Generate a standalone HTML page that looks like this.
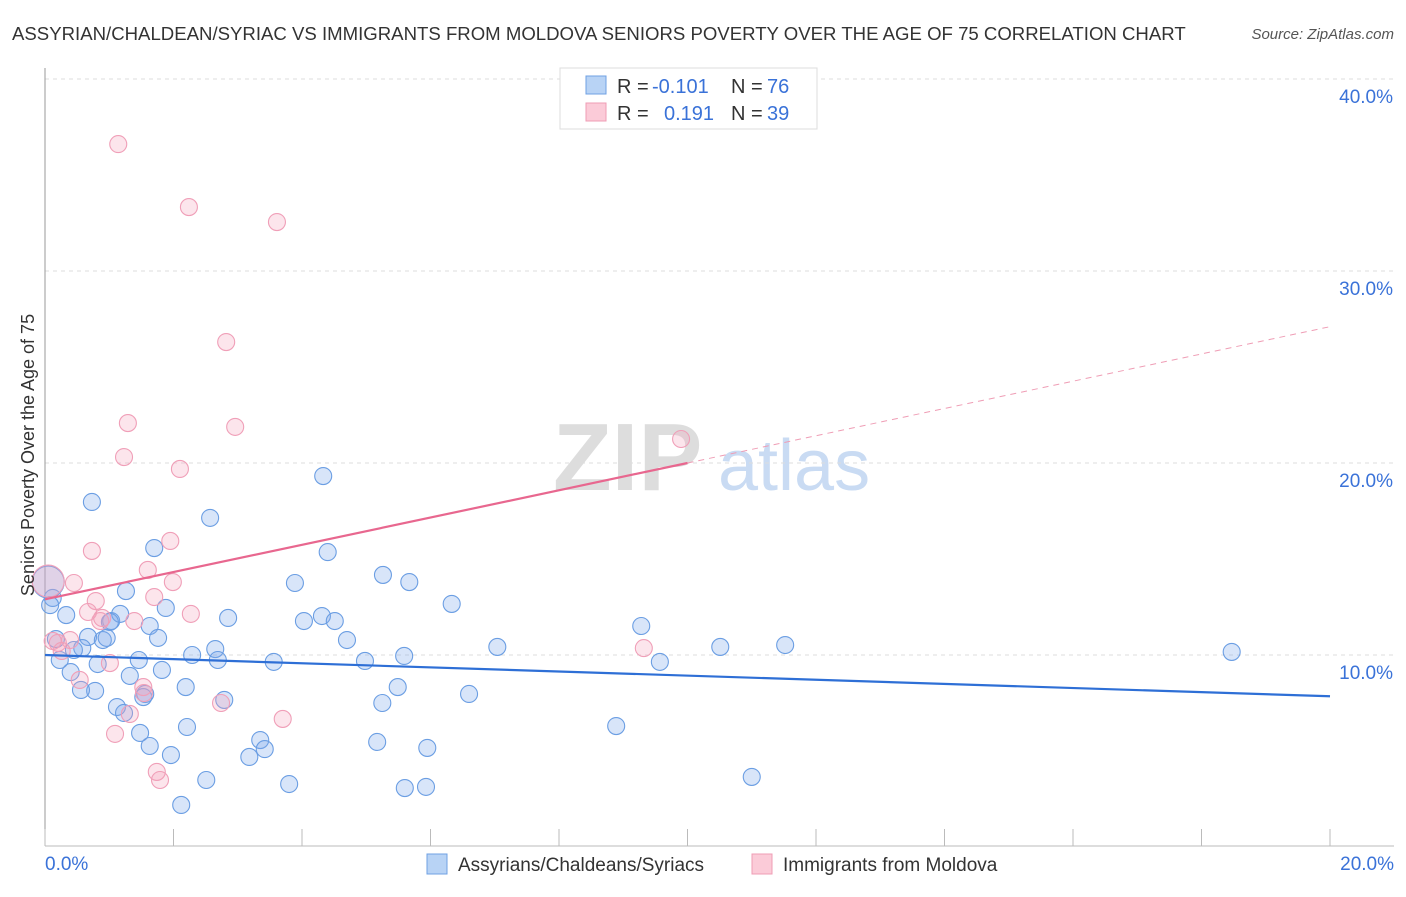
<!DOCTYPE html>
<html><head><meta charset="utf-8"><style>
body{margin:0;background:#fff;font-family:"Liberation Sans",sans-serif}
svg text{font-family:"Liberation Sans",sans-serif}
</style></head><body>
<svg id="chart" width="1406" height="892">
<text x="12" y="40" font-size="18.6" fill="#333">ASSYRIAN/CHALDEAN/SYRIAC VS IMMIGRANTS FROM MOLDOVA SENIORS POVERTY OVER THE AGE OF 75 CORRELATION CHART</text>
<text x="1394" y="39" font-size="15" fill="#555" text-anchor="end" font-style="italic">Source: ZipAtlas.com</text>
<g><text x="553" y="490" font-size="96" font-family="Liberation Serif,serif" fill="#ddd" font-weight="bold">ZIP</text><text x="718" y="490" font-size="72" fill="#c9dbf3">atlas</text></g>
<g id="grid"></g><g id="axes"></g><g id="pts"></g><g id="lines"></g>
<text transform="translate(34,455) rotate(-90)" font-size="18" fill="#333" text-anchor="middle">Seniors Poverty Over the Age of 75</text>
<g>
<rect x="560" y="68" width="257" height="61" fill="#fff" stroke="#ddd"/>
<rect x="586" y="76" width="20" height="18" fill="#b8d3f5" stroke="#6fa0e3"/>
<rect x="586" y="103" width="20" height="18" fill="#fbcbd8" stroke="#ef9db5"/>
<text x="617" y="93" font-size="20" fill="#333">R =</text><text x="652" y="93" font-size="20" fill="#3a72d8">-0.101</text>
<text x="731" y="93" font-size="20" fill="#333">N =</text><text x="767" y="93" font-size="20" fill="#3a72d8">76</text>
<text x="617" y="120" font-size="20" fill="#333">R =</text><text x="664" y="120" font-size="20" fill="#3a72d8">0.191</text>
<text x="731" y="120" font-size="20" fill="#333">N =</text><text x="767" y="120" font-size="20" fill="#3a72d8">39</text>
</g>
<g>
<rect x="427" y="854" width="20" height="20" fill="#b8d3f5" stroke="#6fa0e3"/>
<text x="458" y="871" font-size="19" fill="#333">Assyrians/Chaldeans/Syriacs</text>
<rect x="752" y="854" width="20" height="20" fill="#fbcbd8" stroke="#ef9db5"/>
<text x="783" y="871" font-size="19" fill="#333">Immigrants from Moldova</text>
</g>
</svg>
<script>
const yTicks=[10,20,30,40];
const yTickLabels=["10.0%","20.0%","30.0%","40.0%"];
const xTickLabels=["0.0%","20.0%"];
const blueX=[0.73,2.57,4.33,1.70,4.40,1.26,1.88,3.89,5.26,5.67,6.33,2.85,4.03,4.31,4.51,4.70,1.63,1.76,1.03,0.33,1.17,0.12,0.05,0.17,0.67,0.90,0.96,0.58,0.45,0.23,0.40,0.82,1.46,1.82,2.29,2.65,2.69,3.56,4.98,5.59,7.04,9.28,9.57,10.51,11.52,18.47,1.32,2.19,2.79,1.56,1.53,1.12,1.23,0.78,0.56,1.48,2.21,1.63,1.96,3.35,3.42,3.18,2.51,2.12,3.80,5.17,5.49,5.25,6.60,5.95,5.60,5.93,8.89,11.00,1.01,0.08];
const blueY=[17.97,17.14,19.32,15.57,15.36,13.33,12.45,13.75,14.17,13.80,12.66,11.93,11.77,12.03,11.77,10.78,11.51,10.89,11.77,12.08,12.14,12.97,13.80,10.83,10.94,10.78,10.89,10.36,10.26,9.74,9.11,9.53,9.74,9.22,10.00,10.31,9.74,9.64,9.69,9.95,10.42,11.51,9.64,10.42,10.52,10.16,8.91,8.33,7.66,7.97,7.81,7.29,6.98,8.13,8.18,5.94,6.25,5.26,4.79,5.57,5.10,4.69,3.49,2.19,3.28,5.47,8.33,7.50,7.97,5.16,3.07,3.13,6.30,3.65,11.72,12.60];
const pinkX=[1.14,2.24,3.61,2.82,1.29,1.23,2.96,2.10,9.90,0.73,1.95,1.60,0.45,1.99,1.70,0.79,0.67,0.89,2.27,1.39,0.39,0.20,0.26,0.54,1.01,1.53,1.54,1.32,2.74,3.70,1.09,1.74,1.79,9.32,0.05,0.12,0.86];
const pinkY=[36.61,33.33,32.55,26.30,22.08,20.31,21.88,19.69,21.25,15.42,15.94,14.43,13.75,13.80,13.02,12.81,12.24,11.93,12.14,11.77,10.78,10.63,10.21,8.70,9.58,8.33,8.02,6.93,7.50,6.67,5.89,3.91,3.49,10.36,13.85,10.73,11.77];
const blueLine=[10.0,7.85];
const pinkLine=[12.9,27.1];
const pinkSolidEnd=10;
const sx=v=>45+v*64.25, sy=v=>847-v*19.2;
const NS="http://www.w3.org/2000/svg";
function mk(tag,parent,attrs){const e=document.createElementNS(NS,tag);for(const k in attrs)e.setAttribute(k,attrs[k]);document.getElementById(parent).appendChild(e);return e;}
yTicks.forEach((t,i)=>{
 const g=mk('line','grid',{x1:45,x2:1394,y1:sy(t),y2:sy(t),stroke:'#ddd','stroke-dasharray':'4,4'});
 
 
 const l=mk('text','grid',{x:1393,y:sy(t)+24,'font-size':19,fill:'#3a72d8','text-anchor':'end'});l.textContent=yTickLabels[i];
 
 
});
const ax=mk('line','axes',{x1:45,x2:45,y1:68,y2:846,stroke:'#999'});


const bx=mk('line','axes',{x1:45,x2:1394,y1:846,y2:846,stroke:'#bbb'});


for(let i=0;i<=10;i++){const t=mk('line','axes',{x1:sx(i*2),x2:sx(i*2),y1:829,y2:846,stroke:'#bbb'});
 
 }
[[0,'start',45],[1,'end',1394]].forEach(([i,a,x])=>{const t=mk('text','axes',{x:x,y:870,'font-size':19,fill:'#3a72d8','text-anchor':a});t.textContent=xTickLabels[i];
 
 });
function pts(X,Y,fill,stroke,name){X.forEach((x,i)=>{const big=(x<0.06);
 const c=mk('circle','pts',{cx:sx(x),cy:sy(Y[i]),r:big?16:8.5,fill:fill,stroke:stroke,'stroke-width':1.1});
 
 });}
pts(blueX,blueY,'rgba(125,170,235,0.3)','#6b9ee3','blue-point');
pts(pinkX,pinkY,'rgba(245,160,185,0.28)','#f09fb8','pink-point');
const bl=mk('line','lines',{x1:sx(0),y1:sy(blueLine[0]),x2:sx(20),y2:sy(blueLine[1]),stroke:'#2e6fd6','stroke-width':2.2});


const pe=pinkLine[0]+(pinkLine[1]-pinkLine[0])*pinkSolidEnd/20;
const pl=mk('line','lines',{x1:sx(0),y1:sy(pinkLine[0]),x2:sx(pinkSolidEnd),y2:sy(pe),stroke:'#e8678f','stroke-width':2.2});


const pd=mk('line','lines',{x1:sx(pinkSolidEnd),y1:sy(pe),x2:sx(20),y2:sy(pinkLine[1]),stroke:'#ef9db5','stroke-width':1,'stroke-dasharray':'6,5'});


</script>
</body></html>
